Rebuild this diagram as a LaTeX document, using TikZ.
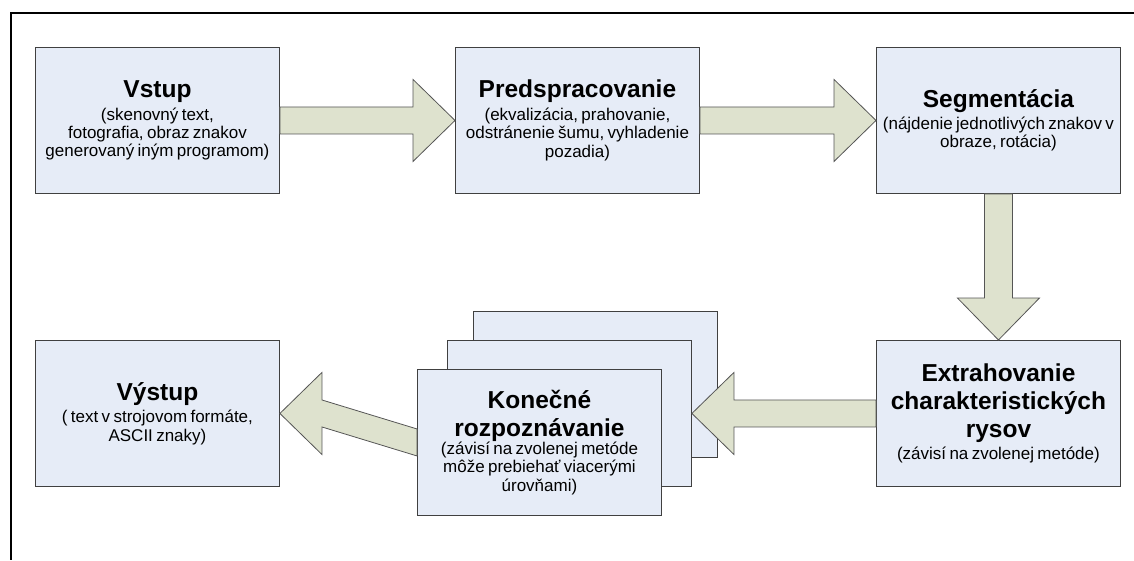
\documentclass[tikz,border=0pt]{standalone}
\usepackage{fontspec}
\setmainfont{Liberation Sans}
\usetikzlibrary{calc}

\definecolor{boxfill}{RGB}{230,236,247}
\definecolor{boxline}{RGB}{64,64,64}
\definecolor{arrowfill}{RGB}{222,226,206}
\definecolor{arrowline}{RGB}{85,85,85}

% title and description of a processing stage
\newcommand{\stagetitle}[1]{{\fontsize{24.5}{28}\selectfont\bfseries #1\par}}
\newcommand{\stagebody}[1]{{\fontsize{17}{18.3}\selectfont #1\par}}

\tikzset{
  stagebox/.style={draw=boxline, line width=0.9pt, fill=boxfill,
    minimum width=244pt, minimum height=146pt, inner sep=0pt,
    text width=242pt, align=center, anchor=north west},
  blockarrow/.style={draw=arrowline, line width=0.8pt, fill=arrowfill, line join=miter},
  frameline/.style={line width=2.6pt, black}
}

% wide block arrows: shaft half width 13.5, head half width 41, head length 42
\newcommand{\arrowright}[2]{%
  \draw[blockarrow] ($(#1)+(0,-13.5)$) -- ($(#2)+(-42,-13.5)$) -- ($(#2)+(-42,-41)$)
    -- (#2) -- ($(#2)+(-42,41)$) -- ($(#2)+(-42,13.5)$) -- ($(#1)+(0,13.5)$) -- cycle;}
\newcommand{\arrowleft}[2]{%
  \draw[blockarrow] ($(#1)+(0,-13.5)$) -- ($(#2)+(42,-13.5)$) -- ($(#2)+(42,-41)$)
    -- (#2) -- ($(#2)+(42,41)$) -- ($(#2)+(42,13.5)$) -- ($(#1)+(0,13.5)$) -- cycle;}
\newcommand{\arrowdown}[2]{%
  \draw[blockarrow] ($(#1)+(-14,0)$) -- ($(#2)+(-14,-42)$) -- ($(#2)+(-41,-42)$)
    -- (#2) -- ($(#2)+(41,-42)$) -- ($(#2)+(14,-42)$) -- ($(#1)+(14,0)$) -- cycle;}

\begin{document}
\begin{tikzpicture}[x=1pt, y=-1pt]
\useasboundingbox (0,0) rectangle (1134,560);

% open frame: top and left edges
\coordinate (ftl) at (11,13);
\coordinate (ftr) at (1134,13);
\coordinate (fbl) at (11,560);
\draw[frameline] (ftr) -- (ftl) -- (fbl);

% upper row
\node[stagebox] (vstup) at (35,47) {%
  \stagetitle{Vstup}\vspace{4.5pt}
  \stagebody{(skenovný text,\\ fotografia, obraz znakov\\ generovaný iným programom)}};
\node[stagebox] (pred) at (455,47) {%
  \stagetitle{Predspracovanie}\vspace{4.5pt}
  \stagebody{(ekvalizácia, prahovanie,\\ odstránenie šumu, vyhladenie\\ pozadia)}};
\node[stagebox] (seg) at (876,47) {%
  \stagetitle{Segmentácia}\vspace{3.5pt}
  \stagebody{(nájdenie jednotlivých znakov v\\ obraze, rotácia)}\vspace{8pt}};

% lower row
\node[stagebox] (extr) at (876,340) {%
  \stagetitle{Extrahovanie\\ charakteristických\\ rysov}\vspace{4pt}
  \stagebody{(závisí na zvolenej metóde)}};
\node[stagebox] (konb) at (473,311) {};
\node[stagebox] (konm) at (447,340) {};
\node[stagebox] (kon) at (417,369) {%
  \stagetitle{Konečné\\ rozpoznávanie}
  \stagebody{(závisí na zvolenej metóde\\ môže prebiehať viacerými\\ úrovňami)}};
\node[stagebox] (vystup) at (35,340) {%
  \stagetitle{Výstup}\vspace{4.5pt}
  \stagebody{( text v strojovom formáte,\\ ASCII znaky)}};

% flow between the stages
\arrowright{vstup.east}{pred.west}
\arrowright{pred.east}{seg.west}
\arrowdown{seg.south}{extr.north}
\arrowleft{extr.west}{konm.east}
\arrowleft{kon.west}{vystup.east}
\end{tikzpicture}
\end{document}
